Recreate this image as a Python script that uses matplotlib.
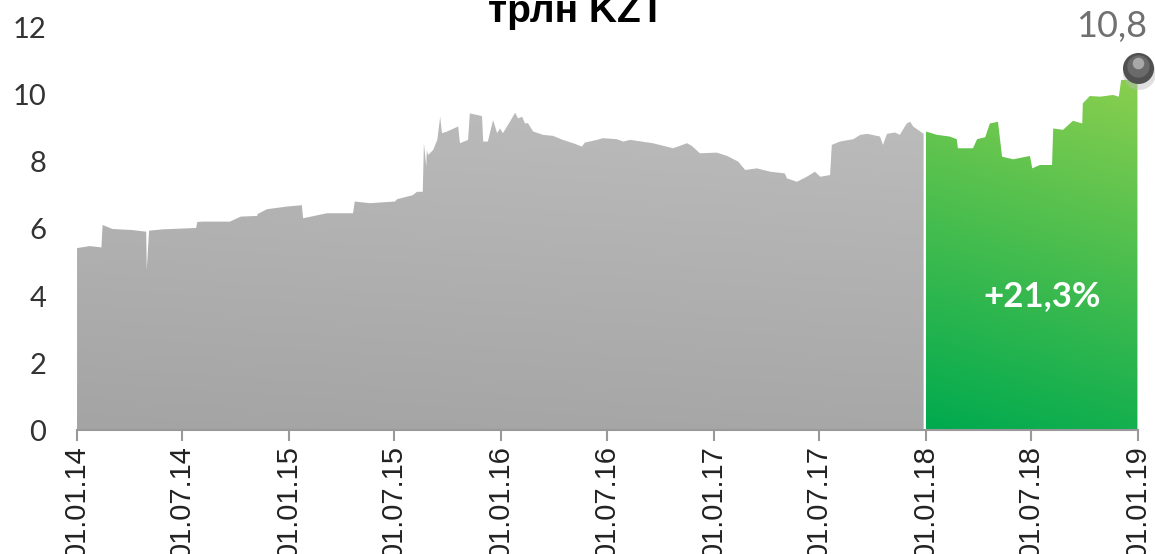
import numpy as np
import pandas as pd
import matplotlib
matplotlib.use('Agg')
from matplotlib import pyplot as plt
import matplotlib.dates as mdates
from matplotlib.colors import LinearSegmentedColormap

# трлн KZT, 2014 - 2017 (gray part)
gray_dates = [
    '2014-01-01', '2014-01-23', '2014-02-12', '2014-02-14', '2014-03-03', '2014-04-05',
    '2014-04-30', '2014-05-01', '2014-05-05', '2014-05-29', '2014-07-25', '2014-07-27',
    '2014-08-06', '2014-09-21', '2014-10-10', '2014-11-07', '2014-11-08', '2014-11-24',
    '2014-12-28', '2015-01-23', '2015-01-25', '2015-03-07', '2015-04-21', '2015-04-24',
    '2015-05-20', '2015-07-02', '2015-07-06', '2015-08-02', '2015-08-09', '2015-08-19',
    '2015-08-21', '2015-08-25', '2015-08-26', '2015-08-28', '2015-09-06', '2015-09-13',
    '2015-09-18', '2015-09-21', '2015-09-30', '2015-10-19', '2015-10-22', '2015-11-05',
    '2015-11-08', '2015-11-29', '2015-12-01', '2015-12-09', '2015-12-18', '2015-12-25',
    '2015-12-30', '2016-01-04', '2016-01-16', '2016-01-25', '2016-01-30', '2016-02-06',
    '2016-02-11', '2016-02-16', '2016-02-25', '2016-03-13', '2016-03-30', '2016-04-16',
    '2016-05-04', '2016-05-19', '2016-05-24', '2016-06-14', '2016-06-24', '2016-07-18',
    '2016-07-29', '2016-08-10', '2016-09-18', '2016-10-23', '2016-11-16', '2016-11-24',
    '2016-12-08', '2017-01-06', '2017-01-24', '2017-02-12', '2017-02-24', '2017-03-16',
    '2017-04-08', '2017-05-03', '2017-05-07', '2017-05-24', '2017-06-10', '2017-06-24',
    '2017-07-03', '2017-07-20', '2017-07-23', '2017-08-06', '2017-08-29', '2017-09-10',
    '2017-09-22', '2017-10-14', '2017-10-19', '2017-10-26', '2017-11-09', '2017-11-17',
    '2017-11-29', '2017-12-05', '2017-12-10', '2017-12-28',
]
gray_values = [
    5.43, 5.49, 5.45, 6.12, 6.00, 5.97,
    5.92, 4.78, 5.95, 5.99, 6.03, 6.21,
    6.22, 6.22, 6.37, 6.39, 6.45, 6.59,
    6.67, 6.71, 6.32, 6.47, 6.47, 6.82,
    6.77, 6.82, 6.89, 7.01, 7.11, 7.11,
    8.56, 7.86, 8.36, 8.21, 8.36, 8.66,
    9.35, 8.86, 8.91, 9.06, 8.56, 8.66,
    9.45, 9.37, 8.61, 8.61, 9.25, 8.86,
    9.00, 8.86, 9.20, 9.47, 9.30, 9.35,
    9.15, 9.16, 8.91, 8.81, 8.78, 8.66,
    8.56, 8.46, 8.58, 8.66, 8.71, 8.68,
    8.61, 8.66, 8.56, 8.41, 8.56, 8.48,
    8.26, 8.28, 8.18, 8.01, 7.76, 7.81,
    7.71, 7.66, 7.51, 7.41, 7.56, 7.71,
    7.56, 7.61, 8.51, 8.61, 8.68, 8.81,
    8.84, 8.76, 8.51, 8.84, 8.88, 8.81,
    9.15, 9.20, 9.06, 8.84,
]

# 2018 (green part)
green_dates = [
    '2018-01-01', '2018-01-20', '2018-02-11', '2018-02-23', '2018-02-25', '2018-03-23',
    '2018-03-30', '2018-04-13', '2018-04-21', '2018-05-05', '2018-05-12', '2018-05-31',
    '2018-06-29', '2018-07-03', '2018-07-16', '2018-08-06', '2018-08-08', '2018-08-25',
    '2018-09-11', '2018-09-27', '2018-09-28', '2018-10-10', '2018-10-28', '2018-11-19',
    '2018-11-29', '2018-12-03', '2018-12-31',
]
green_values = [
    8.91, 8.81, 8.76, 8.68, 8.41, 8.41,
    8.68, 8.74, 9.15, 9.20, 8.16, 8.08,
    8.18, 7.81, 7.91, 7.91, 9.00, 8.96,
    9.23, 9.15, 9.75, 9.97, 9.95, 10.00,
    9.95, 10.45, 10.45,
]

last_date = '2019-01-01'
last_value = 10.8
last_label = '10,8'
growth_label = '+21,3%'
title = 'трлн KZT'


def gradient_fill(ax, dates, values, c_bottom, c_top, y_top):
    x = mdates.date2num(pd.to_datetime(dates))
    y = np.array(values)
    poly = ax.fill_between(x, y, 0, facecolor='none', edgecolor='none')
    cmap = LinearSegmentedColormap.from_list('g', [c_bottom, c_top])
    ny, nx = 200, 60
    yy = np.linspace(0, 1, ny)[:, None]
    xx = np.linspace(0, 1, nx)[None, :]
    z = 0.85 * yy + 0.15 * xx
    im = ax.imshow(z, cmap=cmap, origin='lower', aspect='auto',
                   extent=(x.min(), x.max(), 0, y_top), vmin=0, vmax=1,
                   interpolation='bilinear', zorder=2)
    im.set_clip_path(poly.get_paths()[0], transform=ax.transData)


fig = plt.figure(figsize=(11.55, 5.54), dpi=100)
ax = fig.add_axes([0.0667, 0.2238, 0.9186, 0.7257])

gradient_fill(ax, gray_dates, gray_values, '#a4a4a4', '#bcbcbc', 9.6)
gradient_fill(ax, green_dates, green_values, '#00aa4f', '#8acf4e', 10.5)

ax.set_xlim(mdates.date2num(pd.Timestamp('2014-01-01')), mdates.date2num(pd.Timestamp(last_date)))
ax.set_ylim(0, 12)
ax.set_yticks(np.arange(0, 13, 2))

ax.xaxis.set_major_locator(mdates.MonthLocator(bymonth=(1, 7)))
ax.xaxis.set_major_formatter(mdates.DateFormatter('%d.%m.%y'))
ax.tick_params(axis='x', rotation=90, length=8, width=1.5, color='#999999',
               labelsize=21, labelcolor='#222222', pad=3)
for lab in ax.get_xticklabels():
    lab.set_fontfamily('Liberation Sans')
ax.tick_params(axis='y', length=0, pad=22, labelsize=21, labelcolor='#333333')
for lab in ax.get_yticklabels():
    lab.set_fontfamily('Lato')
    lab.set_fontweight('normal')

for side in ('top', 'right', 'left'):
    ax.spines[side].set_visible(False)
ax.spines['bottom'].set_color('#999999')
ax.spines['bottom'].set_linewidth(1.5)
ax.spines['bottom'].set_zorder(3)

# end point marker (a shaded ball)
xe = mdates.date2num(pd.Timestamp(last_date))
ax.scatter([xe + 2], [last_value - 0.15], s=560, color='#bbbbbb', alpha=0.45, zorder=4, clip_on=False, linewidths=0)
ax.scatter([xe], [last_value], s=500, color='#505050', zorder=5, clip_on=False, linewidths=0)
ax.scatter([xe], [last_value + 0.06], s=260, color='#6a6a6a', zorder=6, clip_on=False, linewidths=0)
ax.scatter([xe], [last_value + 0.16], s=70, color='#a8a8a8', zorder=7, clip_on=False, linewidths=0)

ax.text(xe + 16, last_value + 0.75, last_label, ha='right', va='bottom', fontsize=26,
        family='Lato', color='#707070')
ax.text(mdates.date2num(pd.Timestamp('2018-07-20')), 4.0, growth_label, ha='center', va='center',
        fontsize=25, family='Lato', fontweight='bold', color='white', zorder=8)

fig.text(0.499, 0.960, title, ha='center', va='baseline', fontsize=28,
         family='Liberation Sans', fontweight='bold', color='#000000')

fig.savefig('out.png', dpi=100)
